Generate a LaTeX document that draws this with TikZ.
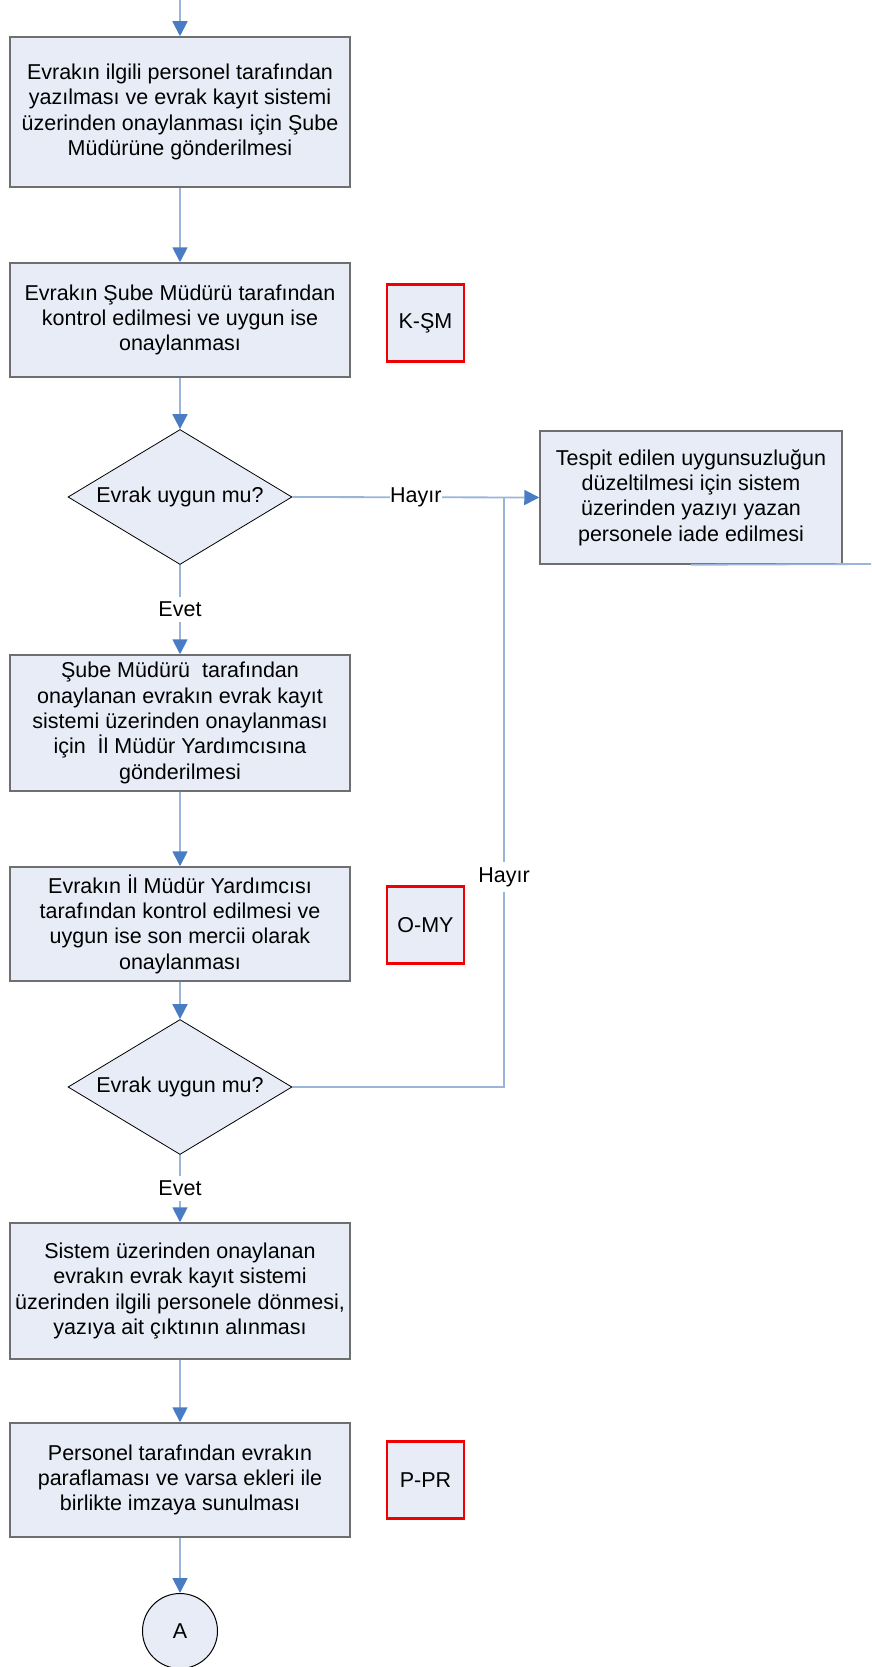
\documentclass[tikz,border=0pt]{standalone}
\usepackage{fontspec}
\setmainfont{Liberation Sans}
\usetikzlibrary{shapes.geometric,arrows.meta}
\definecolor{boxfill}{HTML}{E7ECF7}
\definecolor{boxline}{HTML}{6F6F6F}
\definecolor{flowline}{HTML}{9BB5DA}
\definecolor{flowtip}{HTML}{4A7CC3}
\definecolor{markred}{HTML}{F00000}

\begin{document}
\begin{tikzpicture}[x=1pt, y=-1pt, font=\fontsize{21.5}{25.3}\selectfont]
            \tikzstyle{process} = [rectangle, draw=boxline, line width=1.5pt, fill=boxfill, minimum width=340pt, align=center, inner sep=0pt]
            \tikzstyle{decision} = [diamond, draw=black, line width=0.8pt, fill=boxfill, minimum width=224pt, minimum height=135pt, aspect=1.66, inner sep=0pt]
            \tikzstyle{control} = [rectangle, draw=markred, line width=2.5pt, fill=boxfill, minimum width=77pt, minimum height=77pt]
            \tikzstyle{flow} = [-{Triangle[length=15pt, width=15pt, color=flowtip]}, draw=flowline, line width=1.8pt]
            \tikzstyle{link} = [draw=flowline, line width=1.8pt]
            \tikzstyle{answer} = [fill=white, inner xsep=0pt, inner ysep=5pt]
            \useasboundingbox (0, 0) rectangle (871, 1667);
            \coordinate (start) at (180, 0);
            \node[process, minimum height=150pt] (write) at (180, 112) {Evrakın ilgili personel tarafından\\yazılması ve evrak kayıt sistemi\\üzerinden onaylanması için Şube\\Müdürüne gönderilmesi};
            \node[process, minimum height=114pt] (sube) at (180, 320) {Evrakın Şube Müdürü tarafından\\kontrol edilmesi ve uygun ise\\onaylanması};
            \node[control] (ksm) at (425.5, 323) {K-ŞM};
            \node[decision] (check1) at (180, 497) {Evrak uygun mu?};
            \node[process, minimum width=302pt, minimum height=133pt] (back) at (691, 497.5) {Tespit edilen uygunsuzluğun\\düzeltilmesi için sistem\\üzerinden yazıyı yazan\\personele iade edilmesi};
            \node[process, minimum height=136pt] (send) at (180, 723) {Şube Müdürü~ tarafından\\onaylanan evrakın evrak kayıt\\sistemi üzerinden onaylanması\\için~ İl Müdür Yardımcısına\\gönderilmesi};
            \node[process, minimum height=114pt] (mudur) at (180, 924) {Evrakın İl Müdür Yardımcısı\\tarafından kontrol edilmesi ve\\uygun ise son mercii olarak\\onaylanması};
            \node[control] (omy) at (425.5, 925) {O-MY};
            \node[decision] (check2) at (180, 1087) {Evrak uygun mu?};
            \node[process, minimum height=136pt] (output) at (180, 1291) {Sistem üzerinden onaylanan\\evrakın evrak kayıt sistemi\\üzerinden ilgili personele dönmesi,\\yazıya ait çıktının alınması};
            \node[process, minimum height=114pt] (sign) at (180, 1480) {Personel tarafından evrakın\\paraflaması ve varsa ekleri ile\\birlikte imzaya sunulması};
            \node[control] (ppr) at (425.5, 1480) {P-PR};
            \node[circle, draw=black, line width=1pt, fill=boxfill, minimum size=75pt] (conA) at (180, 1631) {A};
            \coordinate (merge) at (504, 497);
            \coordinate (exit) at (871, 564);

            \draw[flow] (start) -- (write);
            \draw[flow] (write) -- (sube);
            \draw[flow] (sube) -- (check1);
            \draw[flow] (check1.east) -- node[answer] {Hayır} (back.west);
            \draw[flow] (check1.south) -- node[answer] {Evet} (send.north);
            \draw[flow] (send) -- (mudur);
            \draw[flow] (mudur) -- (check2);
            \draw[link] (check2.east) -| node[answer, pos=0.678] {Hayır} (merge);
            \draw[flow] (check2.south) -- node[answer] {Evet} (output.north);
            \draw[flow] (output) -- (sign);
            \draw[flow] (sign) -- (conA);
            \draw[link] (back.south) -- (exit);
        \end{tikzpicture}
\end{document}
